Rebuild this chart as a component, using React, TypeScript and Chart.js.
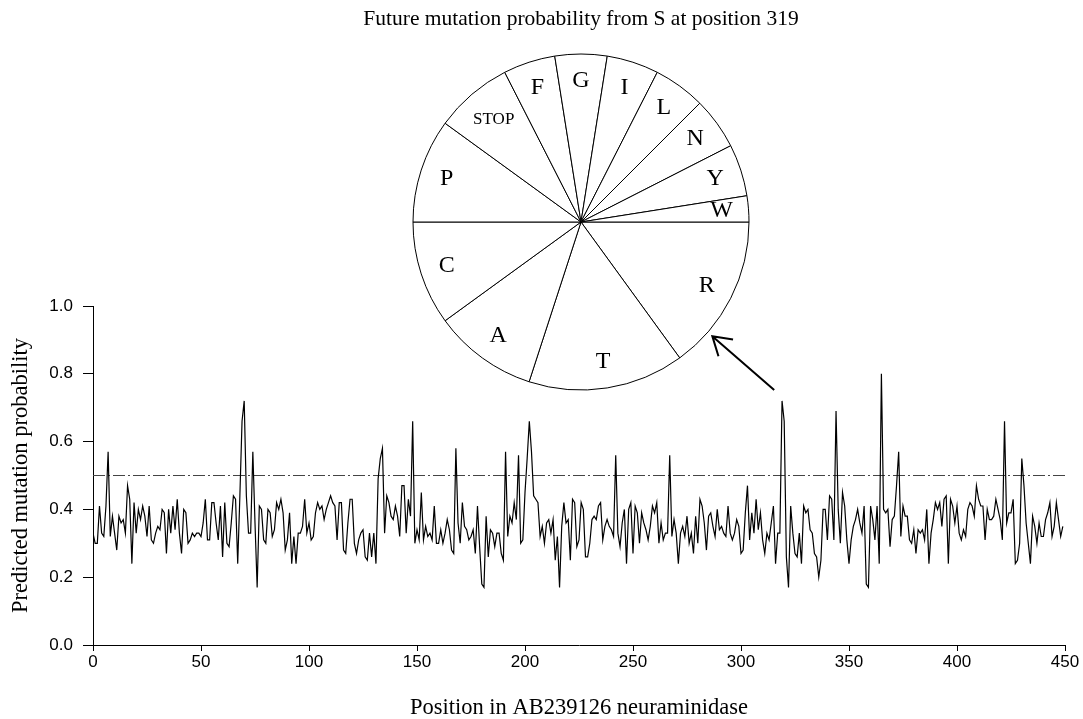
import React, { useEffect, useRef } from "react";
import { Chart, registerables } from "chart.js";

Chart.register(...registerables);

// Predicted mutation probability by position, in blocks of 50 positions
const prob000to049 = [
  0.33, 0.30, 0.30, 0.41, 0.33, 0.32, 0.41, 0.57, 0.32, 0.38,
  0.33, 0.28, 0.38, 0.36, 0.37, 0.33, 0.47, 0.43, 0.24, 0.42,
  0.33, 0.40, 0.37, 0.41, 0.38, 0.32, 0.41, 0.31, 0.30, 0.33,
  0.35, 0.34, 0.40, 0.39, 0.27, 0.40, 0.33, 0.41, 0.34, 0.43,
  0.33, 0.27, 0.40, 0.39, 0.30, 0.31, 0.33, 0.32, 0.33, 0.33,
];
const prob050to099 = [
  0.32, 0.36, 0.43, 0.31, 0.31, 0.42, 0.42, 0.36, 0.31, 0.41,
  0.26, 0.42, 0.30, 0.29, 0.36, 0.44, 0.43, 0.24, 0.44, 0.66,
  0.72, 0.44, 0.33, 0.33, 0.57, 0.36, 0.17, 0.41, 0.40, 0.31,
  0.30, 0.40, 0.39, 0.32, 0.34, 0.42, 0.40, 0.43, 0.39, 0.28,
  0.31, 0.39, 0.24, 0.32, 0.24, 0.33, 0.33, 0.35, 0.43, 0.33,
];
const prob100to149 = [
  0.36, 0.31, 0.32, 0.39, 0.42, 0.40, 0.41, 0.37, 0.40, 0.42,
  0.44, 0.42, 0.41, 0.31, 0.42, 0.42, 0.28, 0.27, 0.36, 0.43,
  0.43, 0.30, 0.27, 0.31, 0.33, 0.34, 0.26, 0.25, 0.33, 0.26,
  0.33, 0.24, 0.49, 0.55, 0.58, 0.33, 0.44, 0.42, 0.38, 0.37,
  0.41, 0.38, 0.32, 0.47, 0.47, 0.33, 0.43, 0.38, 0.66, 0.30,
];
const prob150to199 = [
  0.34, 0.31, 0.45, 0.31, 0.35, 0.32, 0.33, 0.31, 0.41, 0.30,
  0.30, 0.34, 0.30, 0.33, 0.37, 0.34, 0.28, 0.27, 0.58, 0.36,
  0.30, 0.42, 0.35, 0.34, 0.31, 0.32, 0.34, 0.27, 0.41, 0.29,
  0.18, 0.17, 0.38, 0.26, 0.34, 0.33, 0.29, 0.33, 0.33, 0.27,
  0.25, 0.57, 0.32, 0.38, 0.36, 0.42, 0.37, 0.56, 0.30, 0.31,
];
const prob200to249 = [
  0.45, 0.55, 0.66, 0.57, 0.44, 0.43, 0.42, 0.32, 0.35, 0.30,
  0.36, 0.37, 0.33, 0.37, 0.25, 0.32, 0.17, 0.35, 0.42, 0.36,
  0.37, 0.25, 0.43, 0.42, 0.29, 0.31, 0.42, 0.40, 0.26, 0.26,
  0.30, 0.37, 0.38, 0.37, 0.41, 0.42, 0.31, 0.35, 0.37, 0.35,
  0.34, 0.32, 0.56, 0.33, 0.29, 0.36, 0.40, 0.24, 0.40, 0.42,
];
const prob250to299 = [
  0.27, 0.41, 0.39, 0.30, 0.39, 0.36, 0.34, 0.31, 0.35, 0.41,
  0.39, 0.42, 0.30, 0.36, 0.31, 0.33, 0.33, 0.56, 0.32, 0.37,
  0.33, 0.24, 0.33, 0.35, 0.32, 0.38, 0.30, 0.33, 0.27, 0.38,
  0.30, 0.43, 0.41, 0.36, 0.28, 0.38, 0.39, 0.35, 0.32, 0.40,
  0.34, 0.35, 0.33, 0.32, 0.41, 0.33, 0.31, 0.33, 0.37, 0.35,
];
const prob300to349 = [
  0.27, 0.28, 0.39, 0.47, 0.31, 0.39, 0.33, 0.43, 0.34, 0.39,
  0.31, 0.27, 0.33, 0.31, 0.36, 0.41, 0.24, 0.33, 0.33, 0.72,
  0.66, 0.26, 0.17, 0.41, 0.33, 0.27, 0.26, 0.33, 0.24, 0.41,
  0.39, 0.40, 0.34, 0.33, 0.27, 0.26, 0.20, 0.25, 0.40, 0.40,
  0.31, 0.44, 0.43, 0.31, 0.69, 0.40, 0.30, 0.45, 0.41, 0.31,
];
const prob350to399 = [
  0.24, 0.31, 0.35, 0.37, 0.40, 0.36, 0.33, 0.41, 0.18, 0.17,
  0.41, 0.37, 0.31, 0.41, 0.24, 0.80, 0.40, 0.39, 0.40, 0.29,
  0.37, 0.38, 0.47, 0.57, 0.32, 0.41, 0.38, 0.38, 0.31, 0.30,
  0.34, 0.27, 0.34, 0.33, 0.34, 0.31, 0.40, 0.24, 0.33, 0.37,
  0.42, 0.40, 0.42, 0.35, 0.43, 0.44, 0.24, 0.43, 0.41, 0.36,
];
const prob400to449 = [
  0.41, 0.33, 0.31, 0.34, 0.32, 0.40, 0.42, 0.41, 0.38, 0.47,
  0.43, 0.41, 0.41, 0.31, 0.40, 0.37, 0.37, 0.38, 0.43, 0.40,
  0.37, 0.31, 0.66, 0.36, 0.39, 0.39, 0.43, 0.24, 0.25, 0.30,
  0.55, 0.47, 0.36, 0.30, 0.24, 0.38, 0.35, 0.30, 0.36, 0.32,
  0.32, 0.37, 0.39, 0.42, 0.32, 0.35, 0.42, 0.37, 0.32, 0.35,
];

const probabilities = [
  ...prob000to049, ...prob050to099, ...prob100to149, ...prob150to199, ...prob200to249,
  ...prob250to299, ...prob300to349, ...prob350to399, ...prob400to449,
];

const thresholdValue = 0.5;
const xMin = 0;
const xMax = 450;
const xStep = 50;
const yMin = 0;
const yMax = 1;
const yStep = 0.2;

const xAxisTitle = "Position in AB239126 neuraminidase";
const yAxisTitle = "Predicted mutation probability";

// Inset pie: future mutation probability from S at position 319
const pieTitle = "Future mutation probability from S at position 319";
const pieLabels = ["R", "T", "A", "C", "P", "STOP", "F", "G", "I", "L", "N", "Y", "W"];
const pieValues = [0.15, 0.15, 0.1, 0.1, 0.1, 0.075, 0.05, 0.05, 0.05, 0.05, 0.05, 0.05, 0.025];

const SERIF = '"Liberation Serif", "Times New Roman", serif';
const SANS = '"Liberation Sans", Arial, sans-serif';

const pieLabelPlugin = {
  id: "pieLabelPlugin",
  afterDatasetsDraw(chart: any) {
    const ctx = chart.ctx;
    const meta = chart.getDatasetMeta(0);
    meta.data.forEach((arc: any, i: number) => {
      const p = arc.getProps(["x", "y", "startAngle", "endAngle", "outerRadius"], true);
      const mid = (p.startAngle + p.endAngle) / 2;
      const label = String(chart.data.labels[i]);
      const small = label === "STOP";
      const f = small ? 0.8 : 0.84;
      ctx.save();
      ctx.font = `${small ? 17 : 24}px ${SERIF}`;
      ctx.fillStyle = "#000";
      ctx.textAlign = "center";
      ctx.textBaseline = "middle";
      ctx.fillText(label, p.x + Math.cos(mid) * p.outerRadius * f, p.y + Math.sin(mid) * p.outerRadius * f);
      ctx.restore();
    });
  },
  afterDraw(chart: any) {
    // arrow pointing from the position-319 peak toward the pie
    const ctx = chart.ctx;
    const arc: any = chart.getDatasetMeta(0).data[0];
    if (!arc) return;
    const p = arc.getProps(["x", "y", "outerRadius"], true);
    const ang = (41 * Math.PI) / 180;
    const tipX = p.x + Math.cos(ang) * (p.outerRadius + 6);
    const tipY = p.y + Math.sin(ang) * (p.outerRadius + 6);
    const tailX = p.x + Math.cos(ang) * (p.outerRadius + 88);
    const tailY = p.y + Math.sin(ang) * (p.outerRadius + 88);
    ctx.save();
    ctx.strokeStyle = "#000";
    ctx.lineWidth = 2;
    ctx.beginPath();
    ctx.moveTo(tailX, tailY);
    ctx.lineTo(tipX, tipY);
    const wing = 21;
    const spread = (32 * Math.PI) / 180;
    ctx.moveTo(tipX + Math.cos(ang - spread) * wing, tipY + Math.sin(ang - spread) * wing);
    ctx.lineTo(tipX, tipY);
    ctx.lineTo(tipX + Math.cos(ang + spread) * wing, tipY + Math.sin(ang + spread) * wing);
    ctx.stroke();
    ctx.restore();
  },
};

export default function App() {
  const lineRef = useRef<HTMLCanvasElement | null>(null);
  const pieRef = useRef<HTMLCanvasElement | null>(null);

  useEffect(() => {
    if (!lineRef.current || !pieRef.current) return;
    const points = probabilities.map((v, i) => ({ x: i, y: v }));
    const lineChart = new Chart(lineRef.current, {
      type: "line",
      data: {
        datasets: [
          {
            data: points,
            borderColor: "#000",
            borderWidth: 1.2,
            pointRadius: 0,
            tension: 0,
            fill: false,
          },
          {
            data: [
              { x: xMin, y: thresholdValue },
              { x: xMax, y: thresholdValue },
            ],
            borderColor: "#444",
            borderWidth: 1,
            borderDash: [12, 3, 2, 3],
            pointRadius: 0,
            fill: false,
          },
        ],
      },
      options: {
        animation: false,
        responsive: false,
        devicePixelRatio: 1,
        layout: { padding: { left: 0, right: 18, top: 306, bottom: 0 } },
        plugins: { legend: { display: false }, tooltip: { enabled: false } },
        scales: {
          x: {
            type: "linear",
            min: xMin,
            max: xMax,
            afterFit: (s: any) => {
              s.height = 74;
            },
            ticks: {
              stepSize: xStep,
              color: "#000",
              font: { family: SANS, size: 17 },
              padding: 1,
              maxRotation: 0,
            },
            grid: { display: true, drawOnChartArea: false, drawTicks: true, tickLength: 6, color: "#000" },
            border: { display: true, color: "#000", width: 1 },
            title: {
              display: true,
              text: xAxisTitle,
              color: "#000",
              font: { family: SERIF, size: 22.5 },
              padding: { top: 0, bottom: -3 },
            },
          },
          y: {
            type: "linear",
            min: yMin,
            max: yMax,
            afterFit: (s: any) => {
              s.width = 93;
            },
            ticks: {
              stepSize: yStep,
              color: "#000",
              font: { family: SANS, size: 17 },
              padding: 10,
              callback: (v: any) => Number(v).toFixed(1),
            },
            grid: { display: true, drawOnChartArea: false, drawTicks: true, tickLength: 10, color: "#000" },
            border: { display: true, color: "#000", width: 1 },
            title: {
              display: true,
              text: yAxisTitle,
              color: "#000",
              font: { family: SERIF, size: 22.5 },
              padding: { top: 8, bottom: 0 },
            },
          },
        },
      },
    });

    const pieChart = new Chart(pieRef.current, {
      type: "pie",
      data: {
        labels: pieLabels,
        datasets: [
          {
            data: pieValues,
            backgroundColor: "#fff",
            borderColor: "#000",
            borderWidth: 1,
          },
        ],
      },
      options: {
        animation: false,
        responsive: false,
        devicePixelRatio: 1,
        rotation: 90,
        radius: 168,
        layout: { padding: { top: 0, bottom: 36, left: 0, right: 0 } },
        plugins: {
          legend: { display: false },
          tooltip: { enabled: false },
          title: {
            display: true,
            text: pieTitle,
            color: "#000",
            font: { family: SERIF, size: 21.5, weight: "normal" },
            padding: { top: 6, bottom: 8.2 },
          },
        },
      },
      plugins: [pieLabelPlugin],
    });

    return () => {
      lineChart.destroy();
      pieChart.destroy();
    };
  }, []);

  return (
    <div style={{ position: "fixed", left: 0, top: 0, width: 1083, height: 719, background: "#fff" }}>
      <canvas ref={lineRef} width={1083} height={719} style={{ position: "absolute", left: 0, top: 0 }} />
      <canvas ref={pieRef} width={500} height={440} style={{ position: "absolute", left: 331, top: 0 }} />
    </div>
  );
}
